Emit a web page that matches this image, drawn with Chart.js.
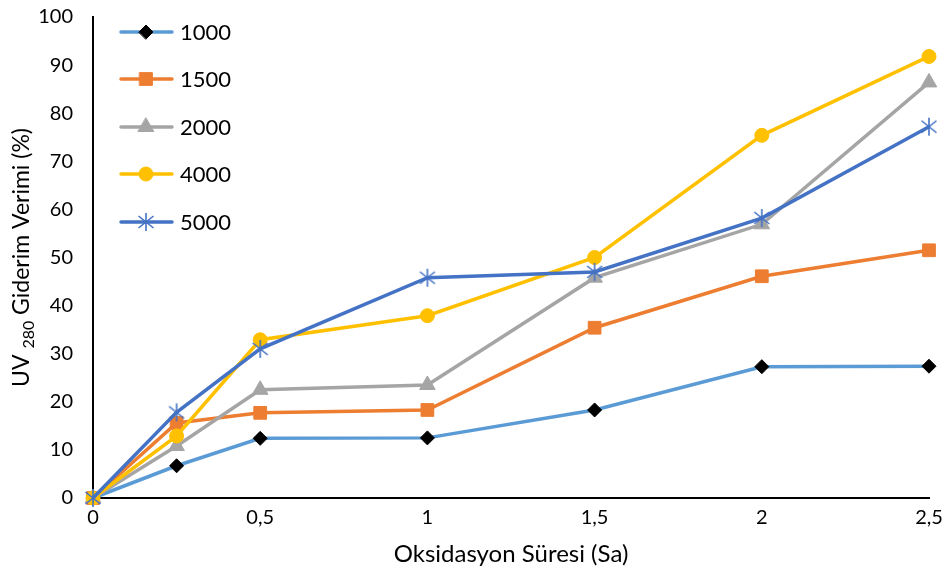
<!DOCTYPE html>
<html><head><meta charset="utf-8">
<script src="https://cdn.jsdelivr.net/npm/chart.js@4"></script>
<style>html,body{margin:0;padding:0;background:#fff}#w{width:947px;height:573px}</style>
</head><body><div id="w"><canvas id="c" width="947" height="573"></canvas></div>
<script>
const times = [0, 0.25, 0.5, 1, 1.5, 2, 2.5];
const xTickValues = [0, 0.5, 1, 1.5, 2, 2.5];
const seriesNames = ['1000', '1500', '2000', '4000', '5000'];
const s1000 = [0, 6.7, 12.4, 12.5, 18.3, 27.3, 27.4];
const s1500 = [0, 15.6, 17.7, 18.3, 35.4, 46.1, 51.5];
const s2000 = [0, 10.8, 22.5, 23.5, 45.8, 56.9, 86.4];
const s4000 = [0, 12.9, 32.9, 37.9, 50.0, 75.4, 91.8];
const s5000 = [0, 17.8, 31.0, 45.8, 47.0, 58.2, 77.2];
const FONT = 'Lato, "Open Sans", sans-serif';

function asterisk(color){
  const c = document.createElement('canvas'); c.width = 20; c.height = 20;
  const g = c.getContext('2d'); g.strokeStyle = color; g.lineWidth = 1.6;
  g.beginPath();
  g.moveTo(10,1); g.lineTo(10,19);
  g.moveTo(2.5,4); g.lineTo(17.5,16);
  g.moveTo(17.5,4); g.lineTo(2.5,16);
  g.stroke();
  return c;
}
const star = asterisk('#4472C4');

const styles = [
  {line:'#5B9BD5', fill:'#000000', stroke:'#000000', ps:'rectRot', r:7},
  {line:'#ED7D31', fill:'#ED7D31', stroke:'#ED7D31', ps:'rect', r:9},
  {line:'#A5A5A5', fill:'#A5A5A5', stroke:'#A5A5A5', ps:'triangle', r:9},
  {line:'#FFC000', fill:'#FFC000', stroke:'#FFC000', ps:'circle', r:7},
  {line:'#4472C4', fill:'#4472C4', stroke:'#4472C4', ps:star, r:10}
];
const values = [s1000, s1500, s2000, s4000, s5000];

const datasets = values.map((v,i)=>({
  label: seriesNames[i],
  data: v.map((y,k)=>({x: times[k], y})),
  borderColor: styles[i].line,
  backgroundColor: styles[i].fill,
  pointBorderColor: styles[i].stroke,
  pointBackgroundColor: styles[i].fill,
  pointStyle: styles[i].ps,
  pointRadius: styles[i].r,
  pointBorderWidth: 1,
  borderWidth: 3.5,
  tension: 0,
  clip: false,
  order: 5 - i
}));

const customPlugin = {
  id: 'custom',
  afterDraw(chart){
    const ctx = chart.ctx;
    const ca = chart.chartArea;
    ctx.save();
    ctx.translate(22, (ca.top + ca.bottom)/2);
    ctx.rotate(-Math.PI/2);
    ctx.fillStyle = '#000';
    ctx.textBaseline = 'middle';
    const big = '23px ' + FONT, small = '16px ' + FONT;
    const parts = [['UV ', big, 0], ['280', small, 7], [' Giderim Verimi (%)', big, 0]];
    let total = 0;
    parts.forEach(p=>{ctx.font = p[1]; total += ctx.measureText(p[0]).width;});
    let x = -total/2;
    parts.forEach(p=>{ctx.font = p[1]; ctx.textAlign='left'; ctx.fillText(p[0], x, p[2]); x += ctx.measureText(p[0]).width;});
    ctx.restore();
    ctx.save();
    const rows = [32, 79, 127, 174, 222];
    chart.data.datasets.forEach((ds,i)=>{
      const y = rows[i];
      ctx.strokeStyle = ds.borderColor; ctx.lineWidth = 3.5; ctx.lineCap='round';
      ctx.beginPath(); ctx.moveTo(121, y); ctx.lineTo(172, y); ctx.stroke();
      ctx.fillStyle = ds.pointBackgroundColor; ctx.strokeStyle = ds.pointBorderColor; ctx.lineWidth = 1;
      Chart.helpers.drawPoint(ctx, {pointStyle: ds.pointStyle, radius: ds.pointRadius, borderWidth: 1, rotation: 0}, 146, y);
      ctx.fillStyle = '#000'; ctx.font = '22px ' + FONT; ctx.textAlign='left'; ctx.textBaseline='middle';
      ctx.fillText(ds.label, 180, y+1);
    });
    ctx.restore();
  }
};

new Chart(document.getElementById('c'), {
  type: 'line',
  data: { datasets },
  plugins: [customPlugin],
  options: {
    responsive: false, animation: false,
    layout: { padding: { left: 0, right: 18, top: 17, bottom: 0 } },
    plugins: { legend: { display: false }, tooltip: { enabled: false } },
    scales: {
      x: {
        type: 'linear', min: 0, max: 2.5,
        afterBuildTicks: s => { s.ticks = xTickValues.map(v=>({value:v})); },
        afterFit: s => { s.height = 75; s.paddingLeft = 0; s.paddingRight = 0; },
        grid: { display: false, drawTicks: false },
        border: { color: '#000', width: 2 },
        ticks: { color: '#000', font: { size: 20, family: FONT }, padding: 8, maxRotation: 0,
          callback: v => String(v).replace('.', ',') },
        title: { display: true, text: 'Oksidasyon Süresi (Sa)', color: '#000', font: { size: 24, family: FONT }, padding: { top: 3 } }
      },
      y: {
        min: 0, max: 100,
        afterFit: s => { s.width = 93; s.paddingTop = 0; s.paddingBottom = 0; },
        grid: { display: false, drawTicks: false },
        border: { color: '#000', width: 2 },
        ticks: { stepSize: 10, color: '#000', font: { size: 20, family: FONT }, padding: 20 }
      }
    }
  }
});
</script></body></html>
